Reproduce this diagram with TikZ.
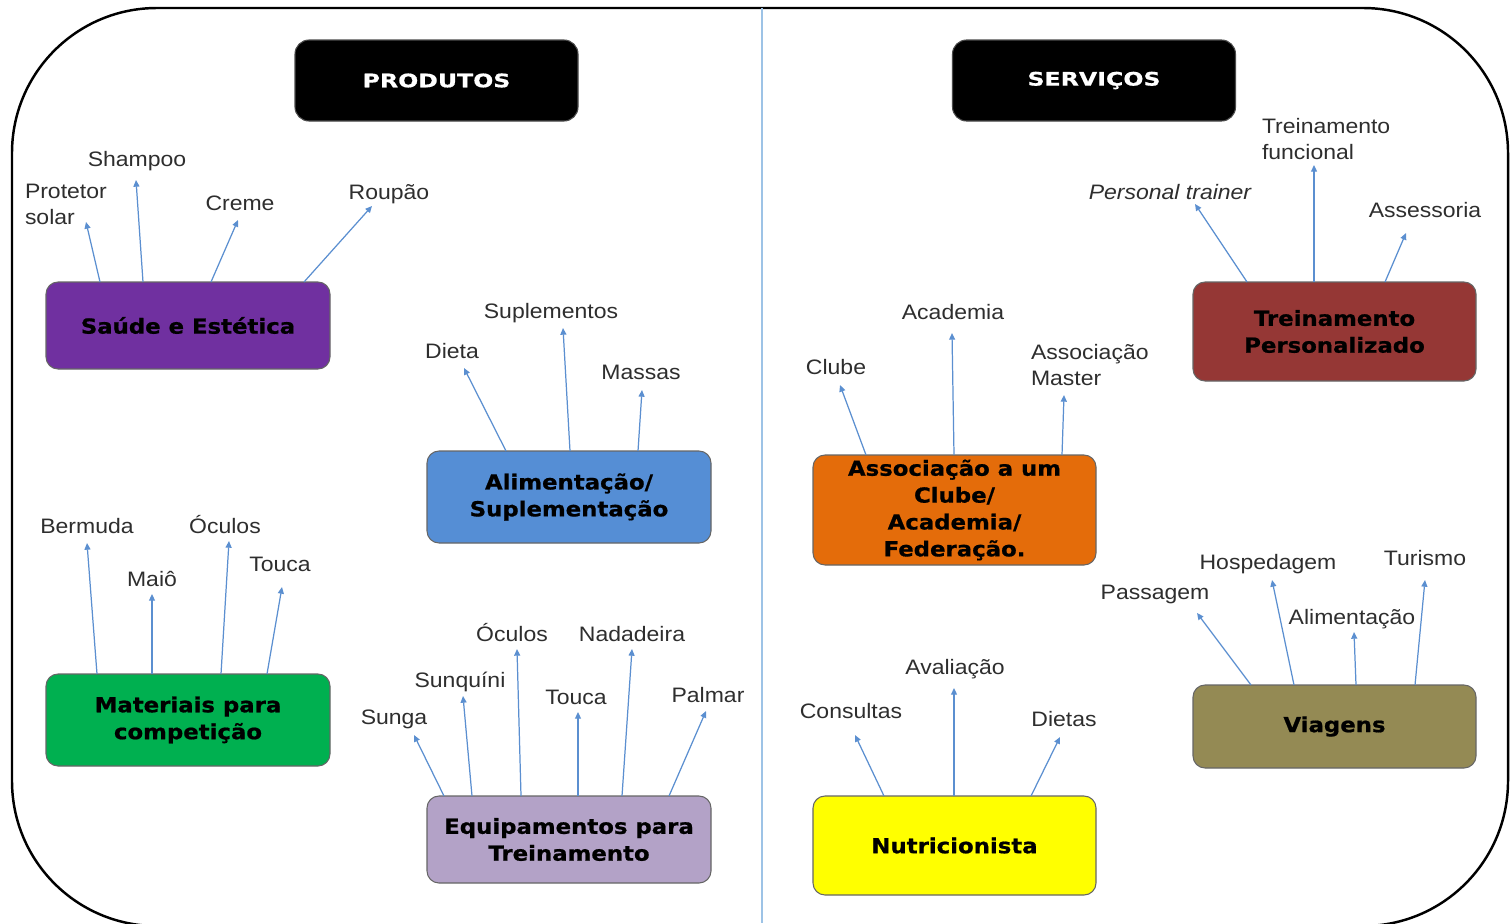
\documentclass[tikz,border=0pt]{standalone}
\usepackage{fontspec}
\usetikzlibrary{arrows.meta,calc}
\newfontfamily\labfont{Liberation Sans}[FakeStretch=1.1]
\newfontfamily\boxfont{DejaVu Sans}[FakeStretch=1.1, BoldFeatures={FakeBold=0.8}]
\newfontfamily\headfont{DejaVu Sans}[FakeStretch=1.27, BoldFeatures={FakeBold=0.6}]
\definecolor{cPurple}{HTML}{7030A0}
\definecolor{cBlue}{HTML}{558ED5}
\definecolor{cGreen}{HTML}{00B050}
\definecolor{cLav}{HTML}{B3A2C7}
\definecolor{cOrange}{HTML}{E46C0A}
\definecolor{cRed}{HTML}{953735}
\definecolor{cOlive}{HTML}{948A54}
\definecolor{cYellow}{HTML}{FFFF00}
\definecolor{cArrow}{HTML}{5B8FD0}
\definecolor{cDivider}{HTML}{9DC3E6}
\definecolor{cLabel}{HTML}{2E2E2E}
\def\pu{0.02cm}
\tikzset{
  catbox/.style={draw=black!60, line width=0.6pt, rounded corners=0.24cm,
    align=center, inner sep=0pt, outer sep=0pt, text=black,
    font=\boxfont\bfseries\fontsize{11.8}{15.3}\selectfont},
  headbox/.style={fill=black, draw=black!70, line width=0.6pt, rounded corners=0.28cm,
    align=center, inner sep=0pt, outer sep=0pt, text=white,
    minimum width=283*\pu, minimum height=81*\pu,
    font=\headfont\bfseries\fontsize{10.6}{13}\selectfont},
  lab/.style={inner sep=0pt, outer sep=0pt, text=cLabel, anchor=base,
    font=\labfont\fontsize{11.9}{14.74}\selectfont},
  lab2/.style={lab, anchor=north west, align=left},
  arr/.style={draw=cArrow, line width=0.7pt, -{Triangle[length=3.8pt,width=3.4pt]}},
  frame/.style={draw=black, line width=1.4pt, rounded corners=2.9cm},
  divider/.style={draw=cDivider, line width=1.1pt}
}
\begin{document}
\begin{tikzpicture}[x=0.02cm,y=-0.02cm]
\useasboundingbox (0,0) rectangle (1510,923);
\clip (0,0) rectangle (1510,923);
\fill[white] (0,0) rectangle (1510,923);
\draw[frame] (12,8) rectangle (1508,926);
\coordinate (divtop) at (762,8);
\coordinate (divbot) at (762,923);
\draw[divider] (divtop) -- (divbot);

% headers
\node[headbox] (prod) at (436.5,80.5) {PRODUTOS};
\node[headbox] (serv) at (1094,80.5) {SERVIÇOS};

% category boxes
\node[catbox, fill=cPurple, minimum width=284*\pu, minimum height=87*\pu] (saude) at (188,325.5) {Saúde e Estética};
\node[catbox, fill=cBlue, minimum width=284*\pu, minimum height=92*\pu] (alim) at (569,497) {Alimentação/\\Suplementação};
\node[catbox, fill=cGreen, minimum width=284*\pu, minimum height=92*\pu] (mat) at (188,720) {Materiais para\\competição};
\node[catbox, fill=cLav, minimum width=284*\pu, minimum height=87*\pu] (equip) at (569,839.5) {Equipamentos para\\Treinamento};
\node[catbox, fill=cOrange, minimum width=283*\pu, minimum height=110*\pu] (assoc) at (954.5,510) {Associação a um\\Clube/\\Academia/\\Federação.};
\node[catbox, fill=cRed, minimum width=283*\pu, minimum height=99*\pu] (treinp) at (1334.5,331.5) {Treinamento\\Personalizado};
\node[catbox, fill=cOlive, minimum width=283*\pu, minimum height=83*\pu] (viag) at (1334.5,726.5) {Viagens};
\node[catbox, fill=cYellow, minimum width=283*\pu, minimum height=99*\pu] (nutri) at (954.5,845.5) {Nutricionista};

% labels
\node[lab2] (protetor) at (25,184) {Protetor\\solar};
\node[lab] (shampoo) at (137,166) {Shampoo};
\node[lab] (creme) at (240,210) {Creme};
\node[lab] (roupao) at (389,199) {Roupão};
\node[lab] (dieta) at (452,358) {Dieta};
\node[lab] (suplementos) at (551,318) {Suplementos};
\node[lab] (massas) at (641,379) {Massas};
\node[lab] (bermuda) at (87,533) {Bermuda};
\node[lab] (maio) at (152,586) {Maiô};
\node[lab] (oculosA) at (225,533) {Óculos};
\node[lab] (toucaA) at (280,571) {Touca};
\node[lab] (sunga) at (394,724) {Sunga};
\node[lab] (sunquini) at (460,687) {Sunquíni};
\node[lab] (oculosB) at (512,641) {Óculos};
\node[lab] (toucaB) at (576,704) {Touca};
\node[lab] (nadadeira) at (632,641) {Nadadeira};
\node[lab] (palmar) at (708,702) {Palmar};
\node[lab] (clube) at (836,374) {Clube};
\node[lab] (academia) at (953,319) {Academia};
\node[lab2] (master) at (1031,344) {Associação\\Master};
\node[lab] (personal) at (1170,199) {\itshape Personal trainer};
\node[lab2] (funcional) at (1262,118) {Treinamento\\funcional};
\node[lab] (assessoria) at (1425,217) {Assessoria};
\node[lab] (passagem) at (1155,599) {Passagem};
\node[lab] (hospedagem) at (1268,569) {Hospedagem};
\node[lab] (alimentacao) at (1352,624) {Alimentação};
\node[lab] (turismo) at (1425,565) {Turismo};
\node[lab] (consultas) at (851,718) {Consultas};
\node[lab] (avaliacao) at (955,674) {Avaliação};
\node[lab] (dietas) at (1064,726) {Dietas};

% arrow tips
\coordinate (tProtetor) at (86,222);
\coordinate (tShampoo) at (136,180);
\coordinate (tCreme) at (238,220);
\coordinate (tRoupao) at (372,206);
\coordinate (tDieta) at (464,368);
\coordinate (tSuplementos) at (563,328);
\coordinate (tMassas) at (642,390);
\coordinate (tBermuda) at (87,543);
\coordinate (tMaio) at (152,594);
\coordinate (tOculosA) at (229,541);
\coordinate (tToucaA) at (282,587);
\coordinate (tSunga) at (414,735);
\coordinate (tSunquini) at (463,696);
\coordinate (tOculosB) at (517,649);
\coordinate (tToucaB) at (578,712);
\coordinate (tNadadeira) at (632,649);
\coordinate (tPalmar) at (706,711);
\coordinate (tClube) at (840,385);
\coordinate (tAcademia) at (952,333);
\coordinate (tMaster) at (1064,395);
\coordinate (tPersonal) at (1195,204);
\coordinate (tFuncional) at (1314,165);
\coordinate (tAssessoria) at (1406,233);
\coordinate (tPassagem) at (1197,613);
\coordinate (tHospedagem) at (1272,580);
\coordinate (tAlimentacao) at (1354,632);
\coordinate (tTurismo) at (1425,580);
\coordinate (tConsultas) at (855,735);
\coordinate (tAvaliacao) at (954,688);
\coordinate (tDietas) at (1060,737);

% connectors
\draw[arr] ($(saude.north west)+(54,0)$) -- (tProtetor);
\draw[arr] ($(saude.north west)+(97,0)$) -- (tShampoo);
\draw[arr] ($(saude.north west)+(165,0)$) -- (tCreme);
\draw[arr] ($(saude.north west)+(258,0)$) -- (tRoupao);
\draw[arr] ($(alim.north west)+(79,0)$) -- (tDieta);
\draw[arr] ($(alim.north west)+(143,0)$) -- (tSuplementos);
\draw[arr] ($(alim.north west)+(211,0)$) -- (tMassas);
\draw[arr] ($(mat.north west)+(51,0)$) -- (tBermuda);
\draw[arr] ($(mat.north west)+(106,0)$) -- (tMaio);
\draw[arr] ($(mat.north west)+(175,0)$) -- (tOculosA);
\draw[arr] ($(mat.north west)+(221,0)$) -- (tToucaA);
\draw[arr] ($(equip.north west)+(17,0)$) -- (tSunga);
\draw[arr] ($(equip.north west)+(45,0)$) -- (tSunquini);
\draw[arr] ($(equip.north west)+(94,0)$) -- (tOculosB);
\draw[arr] ($(equip.north west)+(151,0)$) -- (tToucaB);
\draw[arr] ($(equip.north west)+(195,0)$) -- (tNadadeira);
\draw[arr] ($(equip.north west)+(242,0)$) -- (tPalmar);
\draw[arr] ($(assoc.north west)+(53,0)$) -- (tClube);
\draw[arr] ($(assoc.north west)+(141,0)$) -- (tAcademia);
\draw[arr] ($(assoc.north west)+(249,0)$) -- (tMaster);
\draw[arr] ($(treinp.north west)+(54,0)$) -- (tPersonal);
\draw[arr] ($(treinp.north west)+(121,0)$) -- (tFuncional);
\draw[arr] ($(treinp.north west)+(192,0)$) -- (tAssessoria);
\draw[arr] ($(viag.north west)+(58,0)$) -- (tPassagem);
\draw[arr] ($(viag.north west)+(101,0)$) -- (tHospedagem);
\draw[arr] ($(viag.north west)+(163,0)$) -- (tAlimentacao);
\draw[arr] ($(viag.north west)+(222,0)$) -- (tTurismo);
\draw[arr] ($(nutri.north west)+(71,0)$) -- (tConsultas);
\draw[arr] ($(nutri.north west)+(141,0)$) -- (tAvaliacao);
\draw[arr] ($(nutri.north west)+(218,0)$) -- (tDietas);
\end{tikzpicture}
\end{document}
